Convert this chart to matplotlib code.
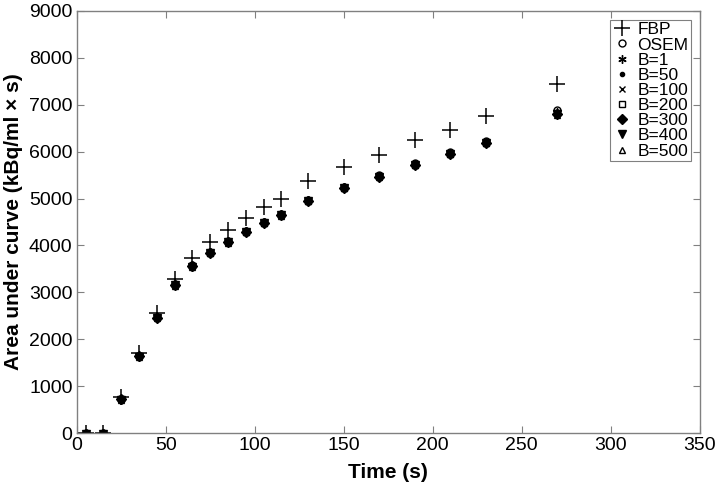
import matplotlib
matplotlib.use("Agg")
import matplotlib.pyplot as plt

time = [5, 15, 25, 35, 45, 55, 65, 75, 85, 95, 105, 115, 130, 150, 170, 190, 210, 230, 270]
fbp  = [0, 0, 760, 1700, 2560, 3280, 3730, 4080, 4330, 4590, 4810, 5000, 5380, 5670, 5930, 6240, 6460, 6750, 7450]
osem = [-10, -10, 730, 1650, 2480, 3170, 3580, 3860, 4090, 4310, 4500, 4660, 4970, 5250, 5500, 5750, 5990, 6230, 6890]
b1   = [-20, -20, 720, 1640, 2470, 3160, 3570, 3850, 4080, 4300, 4490, 4650, 4960, 5240, 5490, 5740, 5970, 6210, 6850]
b50  = [-20, -20, 720, 1640, 2470, 3160, 3570, 3850, 4080, 4300, 4490, 4650, 4960, 5240, 5490, 5730, 5970, 6200, 6840]
b100 = [-20, -20, 720, 1640, 2470, 3150, 3560, 3840, 4080, 4300, 4480, 4650, 4950, 5230, 5480, 5730, 5960, 6200, 6830]
b200 = [-20, -20, 720, 1640, 2470, 3150, 3560, 3840, 4070, 4290, 4480, 4640, 4950, 5230, 5480, 5720, 5960, 6190, 6820]
b300 = [-20, -20, 720, 1640, 2460, 3150, 3560, 3840, 4070, 4290, 4480, 4640, 4950, 5230, 5470, 5720, 5950, 6190, 6810]
b400 = [-20, -20, 710, 1630, 2460, 3150, 3550, 3830, 4070, 4290, 4470, 4640, 4940, 5220, 5470, 5710, 5950, 6180, 6800]
b500 = [-20, -20, 710, 1630, 2460, 3140, 3550, 3830, 4060, 4280, 4470, 4630, 4940, 5220, 5460, 5710, 5940, 6180, 6790]

labels = ["FBP", "OSEM", "B=1", "B=50", "B=100", "B=200", "B=300", "B=400", "B=500"]
xticks = [0, 50, 100, 150, 200, 250, 300, 350]
yticks = [0, 1000, 2000, 3000, 4000, 5000, 6000, 7000, 8000, 9000]

plt.rcParams['font.family'] = ['Liberation Sans', 'DejaVu Sans']

fig = plt.figure(figsize=(7.18, 4.88), dpi=100)
ax = fig.add_axes([0.1068, 0.1127, 0.8677, 0.8648])

series = [fbp, osem, b1, b50, b100, b200, b300, b400, b500]
styles = [
    dict(marker='+', ms=11, mew=1.1, mfc='none'),
    dict(marker='o', ms=5, mew=1.0, mfc='none'),
    dict(marker=(6, 2, 0), ms=6, mew=1.0),
    dict(marker='.', ms=6, mew=1.0),
    dict(marker='x', ms=5, mew=1.0),
    dict(marker='s', ms=5, mew=1.0, mfc='none'),
    dict(marker='D', ms=5, mew=1.0, mfc='black'),
    dict(marker='v', ms=6, mew=1.0, mfc='black'),
    dict(marker='^', ms=5, mew=1.0, mfc='none'),
]
for vals, lab, st in zip(series, labels, styles):
    ax.plot(time, vals, linestyle='none', color='black', mec='black', label=lab, **st)

ax.set_xlim(0, 350)
ax.set_ylim(0, 9000)
ax.set_xticks(xticks)
ax.set_yticks(yticks)
ax.tick_params(direction='in', top=True, right=True, length=5, width=0.8,
               color='#808080', labelsize=14, pad=3)
for s in ax.spines.values():
    s.set_color('#808080')
    s.set_linewidth(1.0)

ax.set_xlabel("Time (s)", fontsize=15, fontweight='bold', labelpad=6)
ax.set_ylabel("Area under curve (kBq/ml \u00d7 s)", fontsize=15, fontweight='bold', labelpad=4)

leg = ax.legend(loc='upper right', fontsize=12.5, frameon=True, fancybox=False,
                edgecolor='#606060', handlelength=1.0, handletextpad=0.4,
                borderpad=0.15, labelspacing=0.0, borderaxespad=0.5,
                markerscale=1.0)
leg.get_frame().set_linewidth(0.8)

fig.savefig("out.png", dpi=100)
